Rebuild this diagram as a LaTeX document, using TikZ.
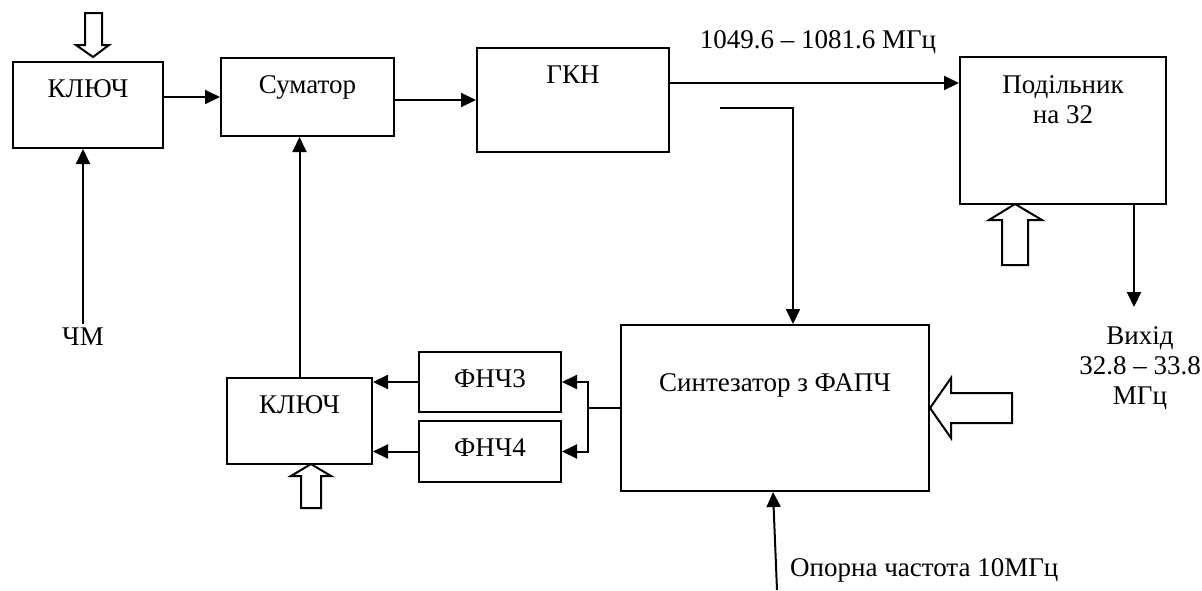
\documentclass[tikz,border=0pt]{standalone}
\usepackage{fontspec}
\setmainfont{Liberation Serif}
\usetikzlibrary{arrows.meta,positioning,calc}

\begin{document}
\begin{tikzpicture}[
  x=1pt, y=-1pt,
  font=\fontsize{27pt}{30pt}\selectfont,
  blok/.style={draw, line width=2pt, inner sep=0pt},
  caption/.style={anchor=base, inner sep=0pt, yshift=-36pt},
  captop/.style={anchor=north, inner sep=0pt, align=center, yshift=-19pt},
  flow/.style={-{Triangle[length=15pt, width=14pt]}, line width=2pt},
  wire/.style={line width=2pt},
  hollow/.style={draw, line width=2pt, line join=miter, fill=white}
]
\useasboundingbox (0,0) rectangle (1202,590);

\node[blok, minimum width=150pt, minimum height=86pt, label={[caption]north:КЛЮЧ}] (key1) at (88,105) {};
\node[blok, minimum width=173pt, minimum height=78pt, label={[caption]north:Суматор}] (sum) at (307.5,97) {};
\node[blok, minimum width=192pt, minimum height=104pt, label={[caption]north:ГКН}] (gkn) at (573,100) {};
\node[blok, minimum width=206pt, minimum height=147pt, label={[captop]north:Подільник\\на 32}] (div) at (1063,130.5) {};
\node[blok, minimum width=308pt, minimum height=166pt, label={[caption, yshift=-31pt]north:Синтезатор з ФАПЧ}] (synth) at (775,408) {};
\node[blok, minimum width=142pt, minimum height=60pt, label={[caption]north:ФНЧ3}] (f3) at (490,382) {};
\node[blok, minimum width=142pt, minimum height=61pt, label={[caption]north:ФНЧ4}] (f4) at (490,451.5) {};
\node[blok, minimum width=145pt, minimum height=86pt, label={[caption]north:КЛЮЧ}] (key2) at (299.5,421) {};

\node[anchor=base] (fm) at (83,345) {ЧМ};
\node[anchor=base] (band) at (818,48) {1049.6 – 1081.6 МГц};
\node[anchor=north, inner sep=0pt, align=center] (out) at (1140,326) {Вихід\\32.8 – 33.8\\МГц};
\node[anchor=base west, inner sep=0pt] (refl) at (790,576) {Опорна частота 10МГц};
\coordinate (tap) at (720,108);
\coordinate (refin) at (777,590);

\draw[flow] (fm.north) -- (fm.north |- key1.south);
\draw[flow] (key1.east |- sum.west) -- (sum.west);
\draw[flow] (sum.east |- gkn.west) -- (gkn.west);
\draw[flow] ([yshift=17pt]gkn.east) -- ([yshift=17pt]gkn.east -| div.west);
\draw[flow] (tap) -| ([xshift=18pt]synth.north);
\draw[flow] ([xshift=71pt]div.south) -- ($(out.north)+(-6,-19)$);
\draw[wire] (synth.west) -- ++(-32,0) coordinate (jn);
\draw[flow] (jn) |- (f3.east);
\draw[flow] (jn) |- (f4.east);
\draw[flow] (f3.west) -- (f3.west -| key2.east);
\draw[flow] (f4.west) -- (f4.west -| key2.east);
\draw[flow] (key2.north) -- (key2.north |- sum.south);
\draw[flow] (refin) -- ([xshift=-2pt]synth.south);

\draw[hollow] (85,13) -- (102,13) -- (102,45) -- (109,45) -- (93,57) -- (76,45) -- (85,45) -- cycle;
\draw[hollow] (1002,265) -- (1028,265) -- (1028,220) -- (1042,220) -- (1015,204) -- (989,220) -- (1002,220) -- cycle;
\draw[hollow] (1012,393) -- (951,393) -- (951,378) -- (930,408) -- (951,438) -- (951,423) -- (1012,423) -- cycle;
\draw[hollow] (301,508) -- (321,508) -- (321,476) -- (331,476) -- (311,464) -- (291,476) -- (301,476) -- cycle;
\end{tikzpicture}
\end{document}
